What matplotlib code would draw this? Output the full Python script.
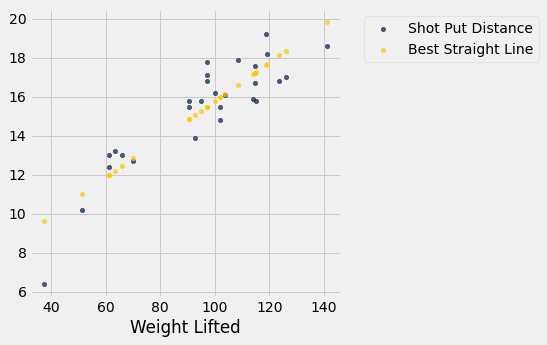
import matplotlib
matplotlib.use("Agg")
import matplotlib.pyplot as plt
import numpy as np

plt.style.use("fivethirtyeight")

# shot put data: weight lifted vs. distance thrown
weight_lifted = [37.5, 51.5, 61.3, 61.3, 63.6, 66.1, 70.0, 92.7, 90.5, 90.5,
                 94.8, 97.0, 97.0, 97.0, 100.1, 101.8, 101.8, 103.6, 108.4,
                 114.0, 115.1, 114.7, 114.7, 118.8, 119.2, 123.6, 125.9, 141.0]
shot_put_distance = [6.4, 10.2, 13.0, 12.4, 13.2, 13.0, 12.7, 13.9, 15.8, 15.5,
                     15.8, 17.8, 17.1, 16.8, 16.2, 15.5, 14.8, 16.1, 17.9,
                     15.9, 15.8, 17.6, 16.7, 19.2, 18.2, 16.8, 17.0, 18.6]

x = np.array(weight_lifted)
y = np.array(shot_put_distance)

# least squares line through the points
slope, intercept = np.polyfit(x, y, 1)
fitted = slope * x + intercept

dark = (0.0, 0.102, 0.267)
gold = (1.0, 0.784, 0.0)

fig = plt.figure(figsize=(547 / 72, 345 / 72), dpi=72)
fig.patch.set_facecolor("#f0f0f0")
ax = fig.add_axes([0.0548, 0.139, 0.5686, 0.835])

ax.scatter(x, y, color=dark, alpha=0.7, s=20, label="Shot Put Distance")
ax.scatter(x, fitted, color=gold, alpha=0.7, s=20, label="Best Straight Line")

ax.set_xlabel("Weight Lifted")
ax.legend(bbox_to_anchor=(1.05, 1), loc=2)

fig.savefig("out.png", dpi=72, facecolor=fig.get_facecolor())
